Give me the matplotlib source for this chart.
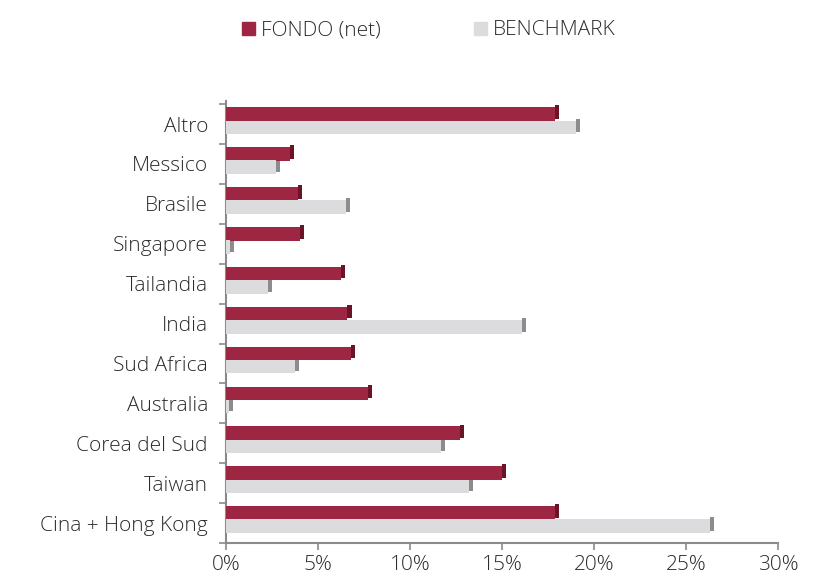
import matplotlib.pyplot as plt
from matplotlib.patches import Patch
from matplotlib.ticker import FuncFormatter
import numpy as np

plt.rcParams['font.family'] = ['Open Sans', 'DejaVu Sans']
plt.rcParams['font.weight'] = 'light'

categories = ["Cina + Hong Kong", "Taiwan", "Corea del Sud", "Australia", "Sud Africa",
              "India", "Tailandia", "Singapore", "Brasile", "Messico", "Altro"]
fondo = [17.9, 15.0, 12.7, 7.7, 6.8, 6.6, 6.25, 4.0, 3.9, 3.5, 17.9]
benchmark = [26.3, 13.2, 11.7, 0.15, 3.75, 16.1, 2.3, 0.2, 6.5, 2.7, 19.0]

c_fondo = "#9d2642"
c_fondo_side = "#6b1428"
c_bench = "#dcdcde"
c_bench_side = "#8c8c8c"
grey = "#8a8a8a"
txt = "#2b2b2b"

fig = plt.figure(figsize=(8.28, 5.86), dpi=100)
ax = fig.add_axes([0.273, 0.0734, 0.6666, 0.755])

y = np.arange(len(categories))
h = 0.34
depth = 0.22  # pseudo-3D side of each bar, in % units

ax.barh(y + 0.25, fondo, height=h, color=c_fondo, zorder=3)
ax.barh(y + 0.25 + 0.05, depth, left=fondo, height=h, color=c_fondo_side, zorder=2)
ax.barh(y - 0.08, benchmark, height=h, color=c_bench, zorder=3)
ax.barh(y - 0.08 + 0.05, depth, left=benchmark, height=h, color=c_bench_side, zorder=2)

ax.set_xlim(0, 30)
ax.set_ylim(-0.37, 10.59)
ax.set_xticks(np.arange(0, 31, 5))
ax.xaxis.set_major_formatter(FuncFormatter(lambda v, p: f"{v:.0f}%"))
ax.set_yticks(y)
ax.set_yticklabels(categories)
ax.set_yticks(np.arange(-0.5, 10.6, 1), minor=True)

ax.tick_params(axis='x', length=5, width=1.2, color=grey, labelsize=15, labelcolor=txt, pad=4)
ax.tick_params(axis='y', which='major', length=0, labelsize=15, labelcolor=txt, pad=13)
ax.tick_params(axis='y', which='minor', length=5, width=1.2, color=grey)

for s in ['top', 'right']:
    ax.spines[s].set_visible(False)
for s in ['left', 'bottom']:
    ax.spines[s].set_color(grey)
    ax.spines[s].set_linewidth(1.5)

handles = [Patch(color=c_fondo, label="FONDO (net)"), Patch(color=c_bench, label="BENCHMARK")]
fig.legend(handles=handles, loc='center', bbox_to_anchor=(0.518, 0.948), ncol=2, frameon=False,
           fontsize=15, handlelength=0.6, handleheight=0.6, handletextpad=0.3,
           columnspacing=4.5, labelcolor=txt)

fig.savefig("out.png", dpi=100)
